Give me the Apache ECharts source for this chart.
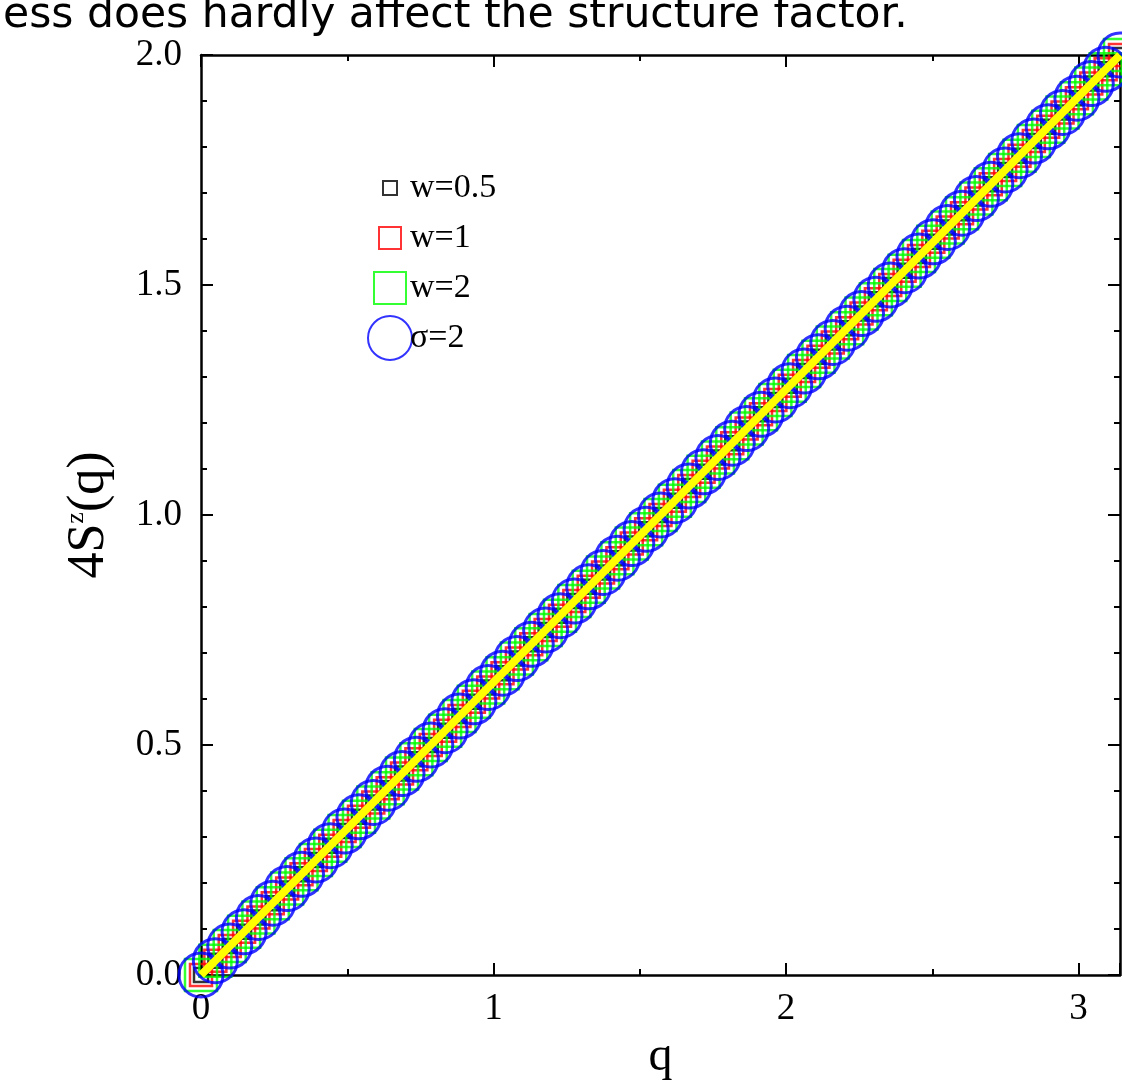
<!DOCTYPE html>
<html>
<head>
<meta charset="utf-8">
<script src="https://cdn.jsdelivr.net/npm/echarts@6/dist/echarts.min.js"></script>
<style>
  html, body { margin: 0; padding: 0; background: #fff; }
  #chart { width: 1122px; height: 1081px; }
</style>
</head>
<body>
<div id="chart"></div>
<script>
// q values (0 .. pi)
var qValues = [0, 0.0491, 0.0982, 0.1473, 0.1963, 0.2454, 0.2945, 0.3436, 0.3927, 0.4418,
    0.4909, 0.5400, 0.5890, 0.6381, 0.6872, 0.7363, 0.7854, 0.8345, 0.8836, 0.9327,
    0.9817, 1.0308, 1.0799, 1.1290, 1.1781, 1.2272, 1.2763, 1.3254, 1.3744, 1.4235,
    1.4726, 1.5217, 1.5708, 1.6199, 1.6690, 1.7181, 1.7671, 1.8162, 1.8653, 1.9144,
    1.9635, 2.0126, 2.0617, 2.1108, 2.1598, 2.2089, 2.2580, 2.3071, 2.3562, 2.4053,
    2.4544, 2.5035, 2.5525, 2.6016, 2.6507, 2.6998, 2.7489, 2.7980, 2.8471, 2.8962,
    2.9452, 2.9943, 3.0434, 3.0925, 3.1416];
// 4S^z(q), same for all widths
var sValues = [0, 0.031, 0.063, 0.094, 0.125, 0.156, 0.188, 0.219, 0.250, 0.281,
    0.313, 0.344, 0.375, 0.406, 0.438, 0.469, 0.500, 0.531, 0.563, 0.594,
    0.625, 0.656, 0.688, 0.719, 0.750, 0.781, 0.813, 0.844, 0.875, 0.906,
    0.938, 0.969, 1.000, 1.031, 1.063, 1.094, 1.125, 1.156, 1.188, 1.219,
    1.250, 1.281, 1.313, 1.344, 1.375, 1.406, 1.438, 1.469, 1.500, 1.531,
    1.563, 1.594, 1.625, 1.656, 1.688, 1.719, 1.750, 1.781, 1.813, 1.844,
    1.875, 1.906, 1.938, 1.969, 2.000];
// yellow reference line
var lineQ = [0, 3.1416];
var lineS = [0, 2];

var seriesNames = ['w=0.5', 'w=1', 'w=2', 'σ=2'];
var seriesColors = ['#000000', '#ff0000', '#00ff00', '#0000ff'];
var seriesSymbols = ['rect', 'rect', 'rect', 'circle'];
var symbolSizes = [14, 22, 32, 44];
var legendCenters = [188, 238, 288, 337];

function pairs(xs, ys) {
    return xs.map(function (x, i) { return [x, ys[i]]; });
}

var serif = '"Liberation Serif", serif';

var series = seriesNames.map(function (name, i) {
    return {
        name: name,
        type: 'scatter',
        symbol: seriesSymbols[i],
        symbolSize: symbolSizes[i],
        z: 2 + i,
        itemStyle: {
            color: 'transparent',
            borderColor: seriesColors[i],
            borderWidth: i == 3 ? 3 : 2.5
        },
        emphasis: { disabled: true },
        data: pairs(qValues, sValues)
    };
});
series.push({
    name: 'line',
    type: 'line',
    z: 10,
    symbol: 'none',
    lineStyle: { color: '#ffff00', width: 8 },
    emphasis: { disabled: true },
    data: pairs(lineQ, lineS)
});

// one legend per series so each icon keeps its own size
var legends = seriesNames.map(function (name, i) {
    var w = symbolSizes[i];
    var left = 389 - w / 2 - 5;
    var h = Math.max(w, 34);
    return {
        data: [name],
        left: left,
        top: legendCenters[i] - h / 2 - 5,
        itemWidth: w,
        itemHeight: w,
        selectedMode: false,
        textStyle: {
            fontFamily: serif, fontSize: 34, color: '#000',
            padding: [0, 0, 0, 404 - (left + w + 5)]
        }
    };
});

var tickStyle = { color: '#000', width: 2 };

function makeAxis(pos, extra) {
    return Object.assign({
        type: 'value',
        position: pos,
        axisLine: { show: true, onZero: false, lineStyle: { color: '#000', width: 2.5 } },
        splitLine: { show: false },
        axisTick: { inside: true, length: 12, lineStyle: tickStyle },
        axisLabel: { show: false }
    }, extra);
}

var chart = echarts.init(document.getElementById('chart'));
chart.setOption({
    animation: false,
    title: {
        text: 'ess does hardly affect the structure factor.',
        left: -2,
        top: -11,
        textStyle: { fontFamily: '"DejaVu Sans", sans-serif', fontWeight: 'normal', fontSize: 42.5, color: '#000' }
    },
    legend: legends,
    grid: { left: 201, right: 2, top: 55, bottom: 106, outerBoundsMode: 'none', containLabel: false },
    xAxis: [
        makeAxis('bottom', {
            min: 0, max: 3.1416, interval: 1,
            name: 'q',
            nameLocation: 'middle',
            nameGap: 57,
            nameTextStyle: { fontFamily: serif, fontSize: 48, color: '#000' },
            minorTick: { show: true, splitNumber: 2, length: 6, lineStyle: tickStyle },
            axisLabel: { show: true, showMaxLabel: false, margin: 16, fontFamily: serif, fontSize: 37, color: '#000' }
        }),
        makeAxis('top', {
            min: 0, max: 3.1416, interval: 1,
            minorTick: { show: true, splitNumber: 2, length: 6, lineStyle: tickStyle }
        })
    ],
    yAxis: [
        makeAxis('left', {
            min: 0, max: 2, interval: 0.5,
            name: '{a|4S}{b|z}{a|(q)}',
            nameLocation: 'middle',
            nameGap: 86,
            nameTextStyle: {
                rich: {
                    a: { fontFamily: serif, fontSize: 52, color: '#000' },
                    b: { fontFamily: serif, fontSize: 26, color: '#000', verticalAlign: 'top', padding: [0, 0, 24, 0] }
                }
            },
            minorTick: { show: true, splitNumber: 5, length: 6, lineStyle: tickStyle },
            axisLabel: {
                show: true, margin: 19, fontFamily: serif, fontSize: 37, color: '#000',
                formatter: function (v) { return v.toFixed(1); }
            }
        }),
        makeAxis('right', {
            min: 0, max: 2, interval: 0.5,
            minorTick: { show: true, splitNumber: 5, length: 6, lineStyle: tickStyle }
        })
    ],
    series: series
});
</script>
</body>
</html>
